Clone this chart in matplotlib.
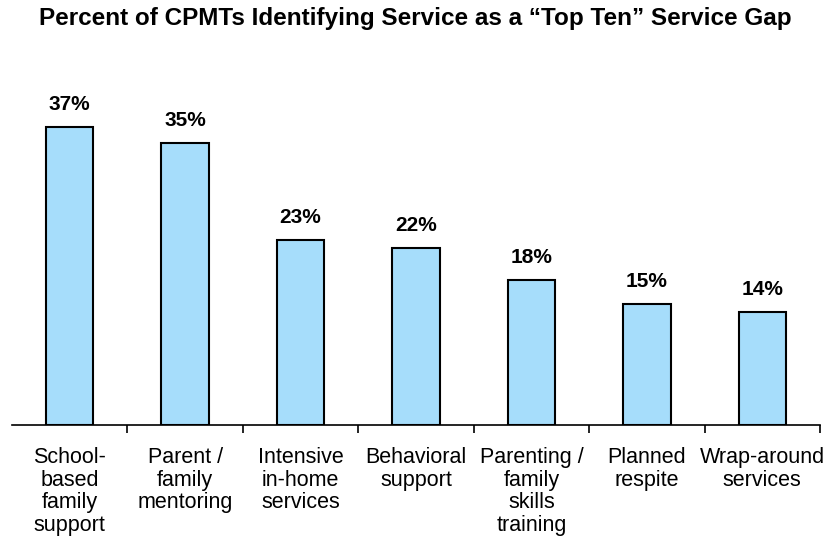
import matplotlib.pyplot as plt
import numpy as np

plt.rcParams['font.family'] = ['Liberation Sans', 'DejaVu Sans']

categories = ['School-\nbased\nfamily\nsupport', 'Parent /\nfamily\nmentoring',
              'Intensive\nin-home\nservices', 'Behavioral\nsupport',
              'Parenting /\nfamily\nskills\ntraining', 'Planned\nrespite',
              'Wrap-around\nservices']
values = [37, 35, 23, 22, 18, 15, 14]

fig = plt.figure(figsize=(8.31, 5.47), dpi=100)
ax = fig.add_axes([12 / 831, 122 / 547, 808 / 831, 322 / 547])

x = np.arange(len(values))
bars = ax.bar(x, values, width=0.41, color='#A6DDFB', edgecolor='black', linewidth=1.5)

for xi, v in zip(x, values):
    ax.text(xi, v + 1.6, f'{v}%', ha='center', va='bottom', fontsize=15, fontweight='bold')

ax.set_xlim(-0.5, len(values) - 0.5)
ax.set_ylim(0, 40)

for s in ['top', 'right', 'left']:
    ax.spines[s].set_visible(False)
ax.spines['bottom'].set_linewidth(1.2)
ax.set_yticks([])

ax.set_xticks(x)
ax.set_xticklabels(categories, fontsize=15.5, va='top', linespacing=1.1)
ax.tick_params(axis='x', which='major', length=0, pad=16)
ax.set_xticks(np.arange(0.5, len(values)), minor=True)
ax.tick_params(axis='x', which='minor', length=6, width=1.2, direction='out')

fig.text(0.5, 1 - 19 / 547, 'Percent of CPMTs Identifying Service as a \u201cTop Ten\u201d Service Gap',
         ha='center', va='center', fontsize=17.5, fontweight='bold')

fig.savefig('out.png', dpi=100)
